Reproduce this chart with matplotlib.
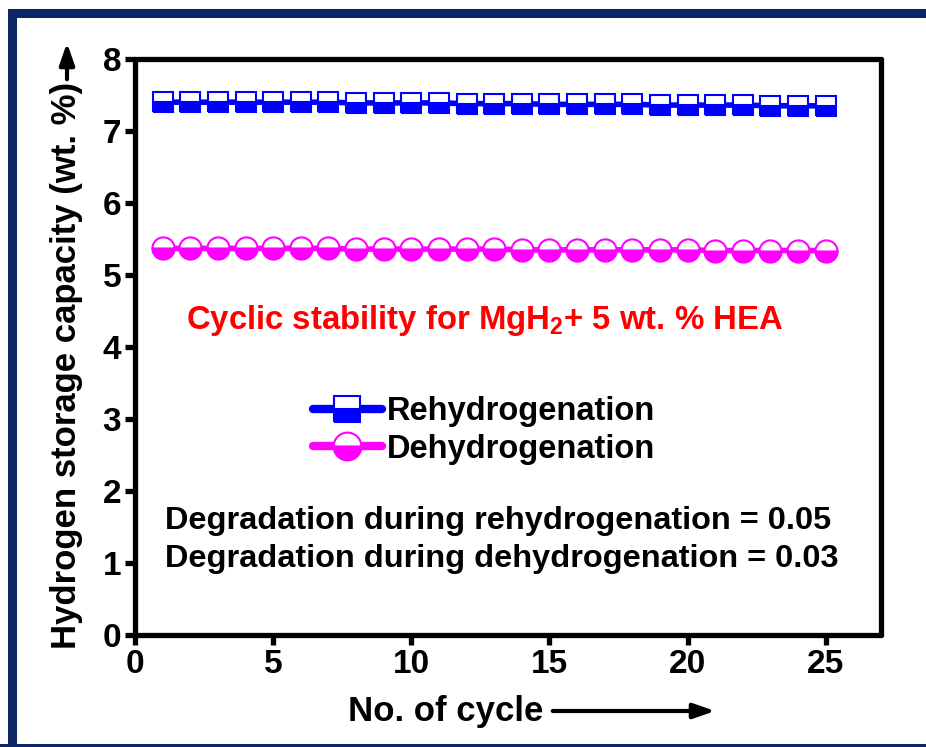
import numpy as np
import matplotlib.pyplot as plt
from matplotlib.patches import Rectangle

plt.rcParams['font.family'] = ['Liberation Sans', 'DejaVu Sans']
plt.rcParams['font.weight'] = 'bold'
plt.rcParams['mathtext.fontset'] = 'custom'
plt.rcParams['mathtext.rm'] = 'Liberation Sans:bold'
plt.rcParams['mathtext.default'] = 'rm'

# data
cycles = list(range(1, 26))
rehyd = [7.40, 7.40, 7.40, 7.40, 7.40, 7.40, 7.40, 7.39, 7.39, 7.39,
         7.39, 7.38, 7.38, 7.38, 7.37, 7.37, 7.37, 7.37, 7.36, 7.36,
         7.36, 7.36, 7.35, 7.35, 7.35]
dehyd = [5.37, 5.37, 5.37, 5.37, 5.37, 5.37, 5.37, 5.36, 5.36, 5.36,
         5.36, 5.36, 5.36, 5.35, 5.35, 5.35, 5.35, 5.35, 5.35, 5.35,
         5.34, 5.34, 5.34, 5.34, 5.34]

W, H = 926, 747
fig = plt.figure(figsize=(W / 100, H / 100), dpi=100)
ax = fig.add_axes([135 / W, 1 - 635 / H, (881 - 135) / W, (635 - 59) / H])

ax.plot(cycles, rehyd, color='blue', lw=4, marker='s', ms=14.5, fillstyle='bottom',
        markerfacecoloralt='white', mec='blue', mew=1.5, label='Rehydrogenation')
ax.plot(cycles, dehyd, color='magenta', lw=4, marker='o', ms=16, fillstyle='bottom',
        markerfacecoloralt='white', mec='magenta', mew=1.5, label='Dehydrogenation')

ax.set_xlim(0, 27.0)
ax.set_ylim(0, 8)
ax.set_xticks([0, 5, 10, 15, 20, 25])
ax.set_yticks(range(0, 9))
for s in ax.spines.values():
    s.set_linewidth(3.8)
    s.set_capstyle('round')
ax.tick_params(direction='out', length=7, width=3.8, labelsize=24, pad=3)
for t in ax.get_xticklabels() + ax.get_yticklabels():
    t.set_fontweight('bold')

ax.set_xlabel('No. of cycle', fontsize=25, fontweight='bold')
ax.set_ylabel('Hydrogen storage capacity (wt. %)', fontsize=25, fontweight='bold')
ax.xaxis.set_label_coords((446 - 135) / 746, -(711 - 635) / 576, transform=ax.transAxes)
ax.yaxis.set_label_coords(-(135 - 67) / 746, (635 - 365) / 576, transform=ax.transAxes)
ax.xaxis.label.set_va('center')
ax.yaxis.label.set_va('center')

ax.text((484 - 135) / 746, (635 - 320) / 576, 'Cyclic stability for MgH$_2$+ 5 wt. % HEA',
        transform=ax.transAxes, color='red', fontsize=23.7, fontweight='bold',
        ha='center', va='center')
ax.text((165 - 135) / 746, (635 - 521) / 576, 'Degradation during rehydrogenation = 0.05',
        transform=ax.transAxes, fontsize=23.4, fontweight='bold', va='center')
ax.text((165 - 135) / 746, (635 - 559) / 576, 'Degradation during dehydrogenation = 0.03',
        transform=ax.transAxes, fontsize=23.4, fontweight='bold', va='center')

leg = ax.legend(loc='upper left', bbox_to_anchor=((300 - 135) / 746, (635 - 383) / 576),
                frameon=False, fontsize=23.5, handlelength=2.1, handletextpad=0.15,
                labelspacing=0.2, markerscale=1.25, borderaxespad=0)
for ln in leg.get_lines():
    ln.set_linewidth(6)
    ln.set_solid_capstyle('round')

# frame around the figure (open on the right)
fig.patches.append(Rectangle((12 / W, -0.01), 1.02, 1 - 12.5 / H + 0.01,
                             transform=fig.transFigure, fill=False,
                             ec='#0b2566', lw=6.5, zorder=10))
fig.patches.append(Rectangle((0, 0), 1, 3 / H, transform=fig.transFigure,
                             fc='#0b2566', ec='none', zorder=10))

# arrows next to the axis titles
ax.annotate('', xy=(718 / W, 1 - 711 / H), xytext=(550 / W, 1 - 711 / H),
            xycoords='figure fraction', textcoords='figure fraction',
            arrowprops=dict(arrowstyle='-|>,head_length=1.3,head_width=0.45',
                            color='black', lw=3))
ax.annotate('', xy=(67 / W, 1 - 40 / H), xytext=(67 / W, 1 - 82 / H),
            xycoords='figure fraction', textcoords='figure fraction',
            arrowprops=dict(arrowstyle='-|>,head_length=1.3,head_width=0.45',
                            color='black', lw=3))

fig.savefig('out.png', dpi=100)
